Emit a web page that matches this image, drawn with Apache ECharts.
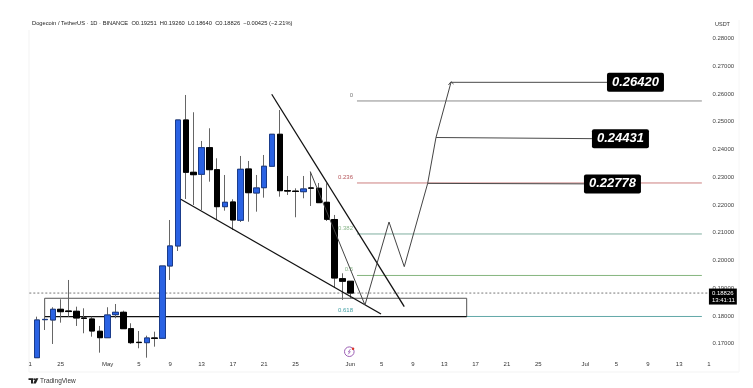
<!DOCTYPE html>
<html>
<head>
<meta charset="utf-8">
<title>Dogecoin / TetherUS</title>
<style>
  html, body { margin: 0; padding: 0; background: #fff; }
  #chart { width: 753px; height: 388px; }
</style>
<script src="https://cdn.jsdelivr.net/npm/echarts@6/dist/echarts.min.js"></script>
</head>
<body>
<div id="chart"></div>
<script>
// daily candles from Apr 21, [open, close, low, high]; Apr 21 itself is off the left edge
var candles = [
  ['-', '-', '-', '-'],
  [0.16497, 0.17856, 0.16497, 0.17975],
  [0.17867, 0.17877, 0.17495, 0.17964],
  [0.17856, 0.18241, 0.16991, 0.18314],
  [0.18241, 0.18155, 0.17759, 0.18602],
  [0.18180, 0.18160, 0.17975, 0.19297],
  [0.18169, 0.17928, 0.17640, 0.18335],
  [0.17928, 0.17914, 0.17377, 0.18277],
  [0.17892, 0.17459, 0.17254, 0.17975],
  [0.17449, 0.17218, 0.16678, 0.17640],
  [0.17218, 0.18036, 0.17218, 0.18314],
  [0.18047, 0.18133, 0.17917, 0.18432],
  [0.18133, 0.17542, 0.17542, 0.18191],
  [0.17542, 0.17038, 0.16991, 0.17737],
  [0.17052, 0.17041, 0.16836, 0.17459],
  [0.17038, 0.17207, 0.16497, 0.17290],
  [0.17207, 0.17193, 0.16894, 0.17434],
  [0.17196, 0.19802, 0.17196, 0.19802],
  [0.19802, 0.20523, 0.19297, 0.21459],
  [0.20523, 0.25063, 0.20342, 0.25063],
  [0.25063, 0.23178, 0.22216, 0.25964],
  [0.23178, 0.23092, 0.22000, 0.25341],
  [0.23106, 0.24065, 0.21820, 0.24306],
  [0.24065, 0.23272, 0.22840, 0.24764],
  [0.23272, 0.21939, 0.21460, 0.23683],
  [0.21939, 0.22097, 0.21795, 0.23081],
  [0.22108, 0.21460, 0.21099, 0.22205],
  [0.21449, 0.23286, 0.21387, 0.23766],
  [0.23297, 0.22443, 0.21398, 0.23586],
  [0.22432, 0.22613, 0.21759, 0.23081],
  [0.22623, 0.23395, 0.22263, 0.23802],
  [0.23395, 0.24548, 0.23395, 0.24548],
  [0.24548, 0.22515, 0.22299, 0.25423],
  [0.22520, 0.22500, 0.22360, 0.23045],
  [0.22500, 0.22486, 0.21557, 0.22600],
  [0.22479, 0.22577, 0.22241, 0.23045],
  [0.22613, 0.22606, 0.21964, 0.23200],
  [0.22602, 0.22083, 0.22083, 0.22793],
  [0.22097, 0.21485, 0.21423, 0.22782],
  [0.21477, 0.19369, 0.19009, 0.21640],
  [0.19344, 0.19251, 0.18577, 0.19539],
  [0.19251, 0.18826, 0.18640, 0.19260]
];

var monthNames = ['Apr', 'May', 'Jun', 'Jul'];
var monthFirst = [21, 1, 1, 1];
var monthLast = [30, 31, 30, 17];

var tickLabels = {
  'Apr 21': ' 1', 'Apr 25': '25', 'May 1': 'May', 'May 5': '5', 'May 9': '9', 'May 13': '13',
  'May 17': '17', 'May 21': '21', 'May 25': '25', 'Jun 1': 'Jun', 'Jun 5': '5', 'Jun 9': '9',
  'Jun 13': '13', 'Jun 17': '17', 'Jun 21': '21', 'Jun 25': '25', 'Jul 1': 'Jul', 'Jul 5': '5',
  'Jul 9': '9', 'Jul 13': '13', 'Jul 17': '1  '
};

var priceTicks = [0.17, 0.18, 0.19, 0.20, 0.21, 0.22, 0.23, 0.24, 0.25, 0.26, 0.27, 0.28];
var lastPrice = 0.18826;
var lastPriceText = '0.18826\n13:41:11';
var headerText = 'Dogecoin / TetherUS · 1D · BINANCE  O0.19251  H0.19260  L0.18640  C0.18826  −0.00425 (−2.21%)';

// fibonacci levels
var fibNames = ['0', '0.236', '0.382', '0.5', '0.618'];
var fibPrices = [0.25748, 0.22793, 0.20955, 0.19460, 0.17982];
var fibLineColors = ['#8c8c8c', '#cc7f7f', '#7fae9f', '#85b57f', '#62a8a8'];
var fibTextColors = ['#777777', '#b5555a', '#8ab58a', '#8ab58a', '#3f9ea3'];
var fibDays = [41.85, 85.9];

// drawn lines, x is a day number counted from Apr 21
var lowerWedgeDays = [19.34, 44.92];
var lowerWedgePrices = [0.22205, 0.18072];
var upperWedgeDays = [30.96, 47.89];
var upperWedgePrices = [0.25989, 0.18335];
var pathDays = [35.89, 42.87, 45.94, 47.89, 50.88, 51.94, 53.86];
var pathPrices = [0.23200, 0.18396, 0.21387, 0.19777, 0.22778, 0.24431, 0.26420];

// support box
var boxDays = [1.96, 55.86];
var boxPrices = [0.17975, 0.18638];

// price targets
var targetPrices = [0.26420, 0.24431, 0.22778];
var targetStartDays = [53.86, 51.94, 50.88];
var targetEndDays = [73.78, 71.86, 70.84];
var targetEndPrices = [0.26420, 0.24390, 0.22760];

var BLUE = '#2a62e3';
var sansFont = '"Liberation Sans", Arial, sans-serif';

function buildDays() {
  var days = [];
  for (var m = 0; m < monthNames.length; m++) {
    for (var d = monthFirst[m]; d <= monthLast[m]; d++) {
      days.push(monthNames[m] + ' ' + d);
    }
  }
  return days;
}

function overlayLine(xs, ys, color, width, extra) {
  var s = {
    type: 'line',
    xAxisIndex: 1,
    symbol: 'none',
    silent: true,
    animation: false,
    lineStyle: { color: color, width: width },
    data: xs.map(function (x, i) { return [x, ys[i]]; })
  };
  for (var k in extra) s[k] = extra[k];
  return s;
}

function fibSeries() {
  return fibNames.map(function (name, i) {
    return overlayLine(fibDays, [fibPrices[i], fibPrices[i]], fibLineColors[i], 1, {
      z: 1,
      symbol: 'circle',
      symbolSize: 0,
      data: [
        {
          value: [fibDays[0], fibPrices[i]],
          label: {
            show: true,
            position: 'left',
            distance: 4,
            offset: [0, -6],
            formatter: name,
            fontFamily: sansFont,
            fontSize: 6,
            color: fibTextColors[i]
          }
        },
        [fibDays[1], fibPrices[i]]
      ]
    });
  });
}

function targetSeries() {
  return targetPrices.map(function (price, i) {
    return overlayLine([targetStartDays[i], targetEndDays[i]], [price, targetEndPrices[i]], '#4a4a4a', 1, {
      z: 6,
      symbol: 'circle',
      symbolSize: 0,
      data: [
        [targetStartDays[i], price],
        {
          value: [targetEndDays[i], targetEndPrices[i]],
          label: {
            show: true,
            position: 'right',
            distance: 0,
            formatter: price.toFixed(5),
            fontFamily: sansFont,
            fontSize: 13,
            fontWeight: 'bold',
            fontStyle: 'italic',
            color: '#fff',
            backgroundColor: '#000',
            borderRadius: 2,
            padding: [3, 5, 3, 5]
          }
        }
      ]
    });
  });
}

function initChart() {
  var myChart = echarts.init(document.getElementById('chart'), null, { renderer: 'canvas' }),
    days = buildDays(),
    bodies = candles.map(function (c) {
      // open and close only, the wicks come from the series below it
      if (c[0] === '-') return c;
      return [c[0], c[1], Math.min(c[0], c[1]), Math.max(c[0], c[1])];
    }),
    option = {
      animation: false,
      backgroundColor: '#fff',
      title: [
        {
          text: headerText,
          left: 27,
          top: 15,
          textStyle: { fontFamily: sansFont, fontSize: 5.75, fontWeight: 'normal', color: '#222' }
        },
        {
          text: 'USDT',
          left: 710,
          top: 16,
          textStyle: { fontFamily: sansFont, fontSize: 5.5, fontWeight: 'normal', color: '#333' }
        }
      ],
      grid: { left: 25.4, right: 38.6, top: 24.6, bottom: 30.4 },
      xAxis: [
        {
          type: 'category',
          data: days,
          axisLine: { show: false },
          axisTick: { show: false },
          splitLine: { show: false },
          axisLabel: {
            interval: 0,
            margin: 4,
            fontFamily: sansFont,
            fontSize: 6,
            color: '#333',
            formatter: function (v) { return tickLabels[v] || ''; }
          }
        },
        { type: 'value', show: false, min: -0.5, max: 87.5 }
      ],
      yAxis: {
        type: 'value',
        position: 'right',
        min: 0.165,
        max: 0.285,
        axisLine: { show: false },
        axisTick: { show: false },
        splitLine: { show: false },
        axisLabel: {
          customValues: priceTicks,
          margin: -2,
          fontFamily: sansFont,
          fontSize: 6,
          color: '#444',
          formatter: function (v) { return v.toFixed(5); }
        }
      },
      series: fibSeries().concat([
        // box goes under the candles, over the fib lines
        overlayLine([boxDays[0], boxDays[0], boxDays[1], boxDays[1]],
          [boxPrices[0], boxPrices[1], boxPrices[1], boxPrices[0]], '#555', 1, { z: 1 }),
        overlayLine(boxDays, [boxPrices[0], boxPrices[0]], '#111', 1.3, { z: 1 }),
        overlayLine([0, 86.8], [lastPrice, lastPrice], '#777', 1, {
          z: 2,
          symbol: 'circle',
          symbolSize: 0,
          lineStyle: { color: '#777', width: 1, type: [2, 2] },
          data: [
            [0, lastPrice],
            {
              value: [86.8, lastPrice],
              label: {
                show: true,
                position: 'right',
                distance: 0,
                offset: [0, 3.5],
                formatter: lastPriceText,
                fontFamily: sansFont,
                fontSize: 6,
                lineHeight: 7,
                color: '#fff',
                backgroundColor: '#000',
                padding: [1, 2, 1, 3]
              }
            }
          ]
        }),
        {
          type: 'candlestick',
          z: 3,
          silent: true,
          barWidth: 6,
          itemStyle: { color: '#666', color0: '#666', borderColor: '#666', borderColor0: '#666', borderWidth: 1 },
          data: candles
        },
        {
          type: 'candlestick',
          z: 4,
          silent: true,
          barWidth: 6,
          itemStyle: { color: BLUE, color0: '#000', borderColor: '#1a3c8c', borderColor0: '#000', borderWidth: 1 },
          data: bodies
        },
        overlayLine(lowerWedgeDays, lowerWedgePrices, '#111', 1.3, { z: 5 }),
        overlayLine(upperWedgeDays, upperWedgePrices, '#111', 1.3, { z: 5 }),
        overlayLine(pathDays, pathPrices, '#444', 1, { z: 5 })
      ]).concat(targetSeries()),
      graphic: [
        { type: 'line', silent: true, shape: { x1: 29, y1: 30, x2: 29, y2: 372 }, style: { stroke: '#f3f3f3', lineWidth: 1 } },
        { type: 'line', silent: true, shape: { x1: 29, y1: 372, x2: 739, y2: 372 }, style: { stroke: '#f3f3f3', lineWidth: 1 } },
        { type: 'line', silent: true, shape: { x1: 739, y1: 20, x2: 739, y2: 372 }, style: { stroke: '#f6f6f6', lineWidth: 1 } },
        // arrow head at the end of the path
        { type: 'polyline', silent: true, z: 6, shape: { points: [[448.5, 85], [451, 81.7], [453.5, 84]] }, style: { stroke: '#444', lineWidth: 1, fill: null } },
        // event badge above Jun
        { type: 'circle', silent: true, shape: { cx: 349.3, cy: 351.7, r: 4.8 }, style: { stroke: '#9c5fb5', lineWidth: 1, fill: '#fff' } },
        { type: 'polyline', silent: true, shape: { points: [[350.5, 349], [348.3, 352], [350.3, 351.7], [348.2, 354.3]] }, style: { stroke: '#9c5fb5', lineWidth: 0.8, fill: null } },
        { type: 'circle', silent: true, shape: { cx: 353, cy: 348.8, r: 1.3 }, style: { fill: '#d9342b' } },
        // TradingView mark
        { type: 'polygon', silent: true, shape: { points: [[28.5, 378.3], [33, 378.3], [33, 383.6], [31, 383.6], [31, 380], [28.5, 380]] }, style: { fill: '#222' } },
        { type: 'circle', silent: true, shape: { cx: 34.2, cy: 379.2, r: 0.9 }, style: { fill: '#222' } },
        { type: 'polygon', silent: true, shape: { points: [[35.6, 378.3], [38.4, 378.3], [35.8, 383.6], [33.2, 383.6]] }, style: { fill: '#222' } },
        { type: 'text', silent: true, style: { text: 'TradingView', x: 40, y: 377.5, font: '6.5px ' + sansFont, fill: '#333' } }
      ]
    };
  myChart.setOption(option, true);
}

initChart();
</script>
</body>
</html>
